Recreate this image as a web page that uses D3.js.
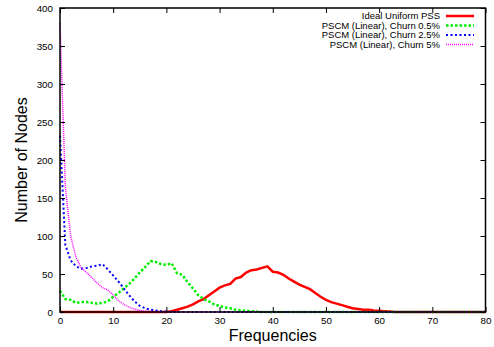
<!DOCTYPE html>
<html><head><meta charset="utf-8">
<script src="https://cdn.jsdelivr.net/npm/d3@7"></script>
<style>body{margin:0;background:#fff}svg{display:block}text{font-family:"Liberation Sans",Arial,sans-serif}</style>
</head><body>
<svg id="c" width="494" height="347"></svg>
<script>
// frequencies 0..80 (integer)
const freqMax = 80;
const xTicks = [0,10,20,30,40,50,60,70,80];
const yTicks = [0,50,100,150,200,250,300,350,400];
const seriesNames = ["Ideal Uniform PSS","PSCM (Linear), Churn 0.5%","PSCM (Linear), Churn 2.5%","PSCM (Linear), Churn 5%"];
// values listed from frequency 0; missing tail = 0
const idealPSS = [0,0,0,0,0,0,0,0,0,0, 0,0,0,0,0,0,0,0,0,0,
  0,1,3,5,7,10,14,17,22,27, 32,35,37,44,46,52,55,56,58,60,
  53,52,49,44,40,36,33,30,25,20, 16,13,11,9,7,5,4,3,3,2, 1.5,1,0.5];
const churn05 = [28,17,16,12,13,13,12,11,12,14, 20,25,31,37,44,52,59,67,66,63,
  62,64,51,49,39,31,22,17,14,10, 8,6,5,3,2,1.5,1,0.5];
const churn25 = [232,88,68,60,57,58,60,61,63,56, 48,40,31,22,14,8,5,3,2,1, 0.5];
const churn5 = [380,165,100,72,58,52,45,38,32,29, 22,15,10,6,4,2,1,0.5];

const seriesValues = [idealPSS, churn05, churn25, churn5];
const colors = ["#ff0000","#00ee00","#0000ff","#ff00ff"];
const widths = [2.5,2.5,2,1.5];
const dashes = [null,"2.5,2","2,2.5","1,1"];

const svg = d3.select("#c");
const L=60, R=485.5, T=8, B=312;
const x = d3.scaleLinear().domain([0,freqMax]).range([L,R]);
const y = d3.scaleLinear().domain([0,400]).range([B,T]);

const data = seriesValues.map(arr => d3.range(0,freqMax+1).map(f => [f, f < arr.length ? arr[f] : 0]));
const line = d3.line().x(d=>x(d[0])).y(d=>y(d[1]));

data.forEach((d,i)=>{
  svg.append("path").datum(d).attr("d",line).attr("fill","none")
    .attr("stroke",colors[i]).attr("stroke-width",widths[i])
    .attr("stroke-dasharray",dashes[i]);
});

// axes with inward ticks
const fmt = d3.format("d");
const gB = svg.append("g").attr("transform",`translate(0,${B})`)
  .call(d3.axisBottom(x).tickValues(xTicks).tickSize(-5).tickPadding(5).tickFormat(fmt));
const gT = svg.append("g").attr("transform",`translate(0,${T})`)
  .call(d3.axisTop(x).tickValues(xTicks).tickSize(-5).tickFormat(""));
const gL = svg.append("g").attr("transform",`translate(${L},0)`)
  .call(d3.axisLeft(y).tickValues(yTicks).tickSize(-5).tickPadding(7).tickFormat(fmt));
const gR = svg.append("g").attr("transform",`translate(${R},0)`)
  .call(d3.axisRight(y).tickValues(yTicks).tickSize(-5).tickFormat(""));
[gB,gT,gL,gR].forEach(g=>{
  g.select(".domain").remove();
  g.selectAll("line").attr("stroke","#000").attr("stroke-width",1);
  g.selectAll("text").attr("font-size",9.8).attr("fill","#000").attr("font-family","Liberation Sans, Arial, sans-serif");
});
svg.append("rect").attr("x",L).attr("y",T).attr("width",R-L).attr("height",B-T)
  .attr("fill","none").attr("stroke","#000").attr("stroke-width",1.5);

// axis titles
svg.append("text").attr("x",(L+R)/2).attr("y",341).attr("text-anchor","middle")
  .attr("font-size",16).text("Frequencies");
svg.append("text").attr("transform",`translate(26.5,${(T+B)/2}) rotate(-90)`).attr("text-anchor","middle")
  .attr("font-size",16).text("Number of Nodes");

// legend
const ly = [16,25.5,35,44.5];
seriesNames.forEach((n,i)=>{
  svg.append("text").attr("x",440).attr("y",ly[i]).attr("dy","0.35em").attr("text-anchor","end")
    .attr("font-size",9.5).text(n);
  svg.append("line").attr("x1",446).attr("x2",474).attr("y1",ly[i]).attr("y2",ly[i])
    .attr("stroke",colors[i]).attr("stroke-width",widths[i]).attr("stroke-dasharray",dashes[i]);
});
</script>
</body></html>
